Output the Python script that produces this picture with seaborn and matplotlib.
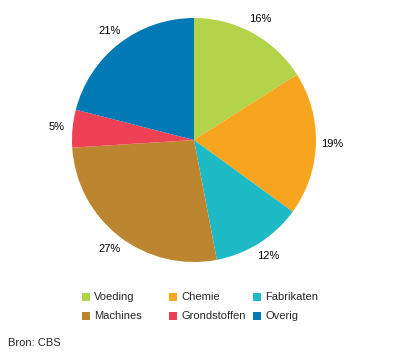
import seaborn as sns
import matplotlib.pyplot as plt
from matplotlib.patches import Rectangle

categories = ["Voeding", "Chemie", "Fabrikaten", "Machines", "Grondstoffen", "Overig"]
shares = [16, 19, 12, 27, 5, 21]
colors = ["#B2D34A", "#F7A51E", "#1EBBC6", "#BC8630", "#EF4155", "#0079B5"]

sns.set_style("white")
plt.rcParams['font.family'] = ['Liberation Sans', 'DejaVu Sans']

W, H = 396, 361
fig = plt.figure(figsize=(W / 100, H / 100), dpi=100)

# pie: center (194,140), radius 122 px
r = 122
ax = fig.add_axes([(194 - r) / W, 1 - (140 + r) / H, 2 * r / W, 2 * r / H])
ax.pie(shares, colors=colors, startangle=90, counterclock=False,
       labels=[f"{s}%" for s in shares], labeldistance=1.13,
       textprops=dict(fontsize=8, color="#000000", ha="center", va="center"),
       wedgeprops=dict(linewidth=0))
ax.set_aspect("equal")
ax.set_xlim(-1, 1)
ax.set_ylim(-1, 1)
ax.axis("off")

# legend laid out in a 3x2 grid
col_x = [82, 169, 253]
row_y = [297, 316]
for i, (name, c) in enumerate(zip(categories, colors)):
    x = col_x[i % 3]
    y = row_y[i // 3]
    fig.patches.append(Rectangle((x / W, 1 - (y + 4) / H), 8 / W, 8 / H,
                                 transform=fig.transFigure, color=c, linewidth=0))
    fig.text((x + 12) / W, 1 - y / H, name, fontsize=8, va="center", ha="left")

fig.text(8 / W, 1 - 343 / H, "Bron: CBS", fontsize=8, va="center", ha="left")

fig.savefig("out.png", dpi=100)
